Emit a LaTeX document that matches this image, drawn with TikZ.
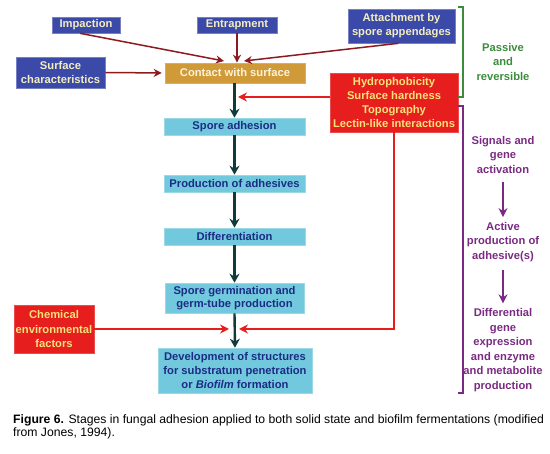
\documentclass[tikz,border=0pt]{standalone}
\usepackage{fontspec}
\setmainfont{Liberation Sans}
\usetikzlibrary{arrows.meta}
\definecolor{bluebox}{HTML}{3B4AA8}
\definecolor{bluetext}{HTML}{F4EEC0}
\definecolor{goldbox}{HTML}{D09A38}
\definecolor{goldtext}{HTML}{FBF3DA}
\definecolor{redbox}{HTML}{E61E1E}
\definecolor{redtext}{HTML}{F8E27A}
\definecolor{cyanbox}{HTML}{72C9DD}
\definecolor{cyantext}{HTML}{1C2C84}
\definecolor{darkarrow}{HTML}{0F3B3B}
\definecolor{darkred}{HTML}{8E1A1E}
\definecolor{redline}{HTML}{E81E1E}
\definecolor{greenb}{HTML}{3C8C3C}
\definecolor{purpleb}{HTML}{7A2A82}
\begin{document}
\begin{tikzpicture}[x=1pt,y=-1pt,
  box/.style={rectangle, inner sep=1pt, align=center,
    font=\bfseries\fontsize{11.2}{14}\selectfont},
  bluenode/.style={box, fill=bluebox, text=bluetext, draw=bluebox!70!white, line width=0.6pt},
  goldnode/.style={box, fill=goldbox, text=goldtext, draw=goldbox!80!white, line width=0.6pt},
  rednode/.style={box, fill=redbox, text=redtext, draw=redbox!80!white, line width=0.6pt},
  cyannode/.style={box, fill=cyanbox, text=cyantext, draw=cyanbox!70!white, line width=0.6pt},
  sidetext/.style={align=center, inner sep=0pt, font=\bfseries\fontsize{11.2}{14.5}\selectfont},
  darkarr/.style={draw=darkarrow, line width=2.4pt, -{Stealth[length=9pt,width=10pt]}},
  drarr/.style={draw=darkred, line width=1.5pt, -{Stealth[length=8pt,width=8pt]}},
  redarr/.style={draw=redline, line width=2pt, -{Stealth[length=9pt,width=9pt]}},
  purparr/.style={draw=purpleb, line width=2pt, -{Stealth[length=9pt,width=9pt]}},
  capt/.style={anchor=base west, inner sep=0pt, font=\fontsize{12.2}{13.5}\selectfont}
]
\useasboundingbox (0,0) rectangle (550,454);

% top inputs
\node[bluenode, minimum width=68pt, minimum height=16pt] (imp) at (86,25) {Impaction};
\node[bluenode, minimum width=80pt, minimum height=16pt] (ent) at (237,25) {Entrapment};
\node[bluenode, minimum width=107pt, minimum height=34pt] (att) at (401.5,26) {Attachment by\\spore appendages};
\node[bluenode, minimum width=89pt, minimum height=31pt] (surf) at (60.5,72.5) {Surface\\characteristics};
\node[goldnode, minimum width=140pt, minimum height=20pt] (contact) at (235,73) {Contact with surface};

% red factor box
\node[rednode, minimum width=128pt, minimum height=59pt, font=\bfseries\fontsize{11.2}{14.3}\selectfont] (hyd) at (394,102.5)
  {Hydrophobicity\\Surface hardness\\Topography\\Lectin-like interactions};

% main column
\node[cyannode, minimum width=141pt, minimum height=17pt] (sa) at (234.5,126.5) {Spore adhesion};
\node[cyannode, minimum width=141pt, minimum height=17pt] (pa) at (234.5,183.5) {Production of adhesives};
\node[cyannode, minimum width=141pt, minimum height=17pt] (diff) at (234.5,236.5) {Differentiation};
\node[cyannode, minimum width=139pt, minimum height=30pt, font=\bfseries\fontsize{11.2}{13.5}\selectfont] (germ) at (234.5,298) {Spore germination and\\germ-tube production};
\node[cyannode, minimum width=154pt, minimum height=45pt, font=\bfseries\fontsize{11.2}{14.3}\selectfont] (dev) at (235,370.5) {Development of structures\\for substratum penetration\\or \textit{Biofilm} formation};

\node[rednode, minimum width=80pt, minimum height=48pt, font=\bfseries\fontsize{11.2}{14.3}\selectfont] (chem) at (54,329) {Chemical\\environmental\\factors};

% right side annotations
\node[sidetext, text=greenb] (pass) at (503,62) {Passive\\and\\reversible};
\node[sidetext, text=purpleb] (sig) at (503,155) {Signals and\\gene\\activation};
\node[sidetext, text=purpleb] (act) at (503,242) {Active\\production of\\adhesive(s)};
\node[sidetext, text=purpleb] (dge) at (503,350) {Differential\\gene\\expression\\and enzyme\\and metabolite\\production};

% junction coordinates
\coordinate (jc) at (224,61);
\coordinate (jatt) at (244,61);
\coordinate (jhyd) at (238,97);
\coordinate (jbl) at (229,329);
\coordinate (jbr) at (239,329);

% dark red input arrows
\draw[drarr] ([xshift=-6pt]imp.south) -- (jc);
\draw[drarr] (ent.south) -- (ent.south |- contact.north);
\draw[drarr] ([xshift=-3pt]att.south) -- (jatt);
\draw[drarr, shorten >=3pt] (surf.east) -- (contact.west);

% main column arrows
\draw[darkarr] (contact.south -| sa.north) -- (sa.north);
\draw[darkarr] (sa.south) -- (pa.north);
\draw[darkarr] (pa.south) -- (diff.north);
\draw[darkarr] (diff.south) -- (germ.north);
\draw[darkarr] (germ.south) -- (dev.north);

% red factor arrows
\draw[redarr] (hyd.west |- jhyd) -- (jhyd);
\draw[redarr] (hyd.south) |- (jbr);
\draw[redarr] (chem.east) -- (jbl);

% brackets
\draw[greenb, line width=1.3pt] (458,7) -- (463,7) -- (463,97) -- (458,97);
\draw[purpleb, line width=1.3pt] (458,106) -- (463,106) -- (463,393) -- (458,393);

% purple arrows
\draw[purparr] ([yshift=-8pt]sig.south) -- ([yshift=5pt]act.north);
\draw[purparr] ([yshift=-8pt]act.south) -- ([yshift=5pt]dge.north);

% caption
\node[capt] (cap1) at (13,424) {\textbf{Figure 6.} Stages in fungal adhesion applied to both solid state and biofilm fermentations (modified};
\node[capt] (cap2) at (13,437) {from Jones, 1994).};
\end{tikzpicture}
\end{document}
